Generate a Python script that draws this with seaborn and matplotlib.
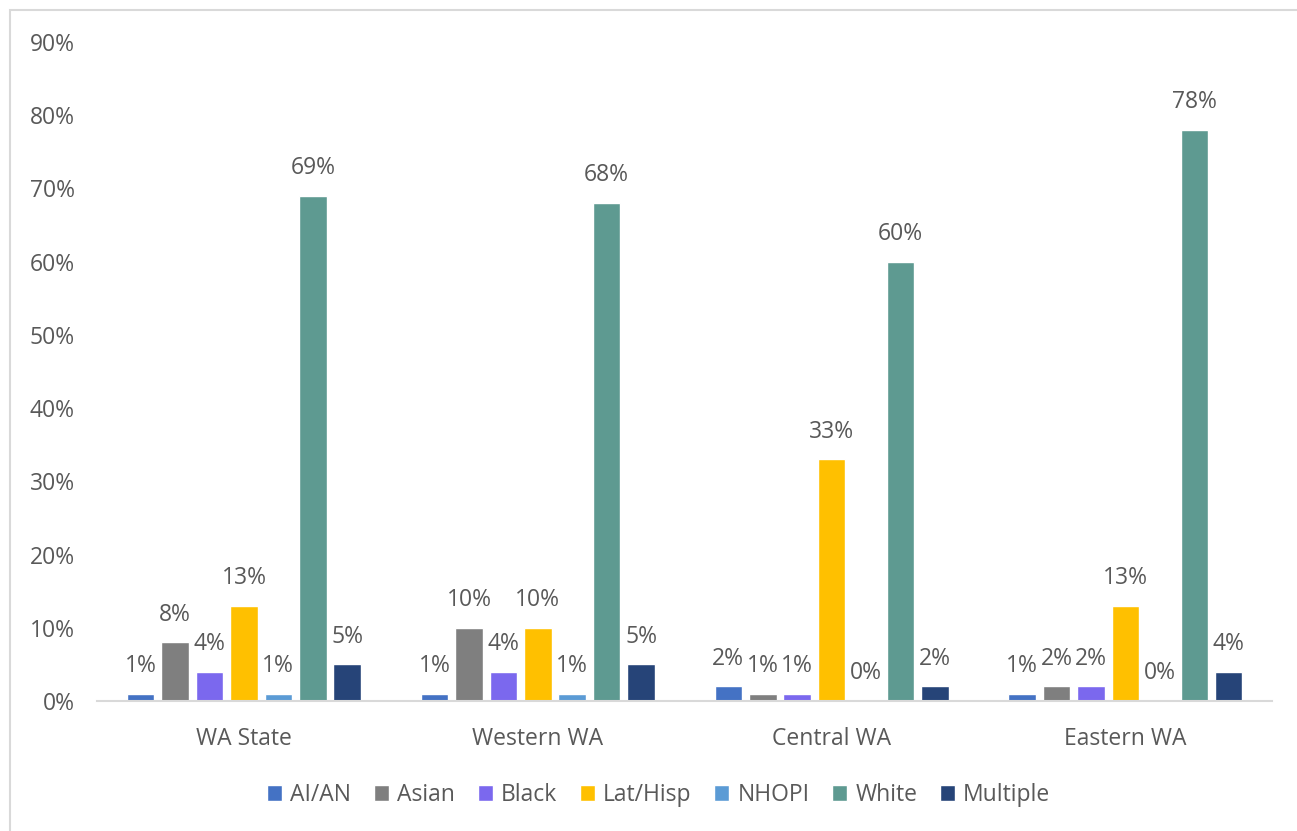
import matplotlib
matplotlib.use("Agg")
import matplotlib.pyplot as plt
from matplotlib.patches import Rectangle
import seaborn as sns
import pandas as pd

regions = ["WA State", "Western WA", "Central WA", "Eastern WA"]
groups = ["AI/AN", "Asian", "Black", "Lat/Hisp", "NHOPI", "White", "Multiple"]
ai_an = [1, 1, 2, 1]
asian = [8, 10, 1, 2]
black = [4, 4, 1, 2]
lat_hisp = [13, 10, 33, 13]
nhopi = [1, 1, 0, 0]
white = [69, 68, 60, 78]
multiple = [5, 5, 2, 4]
y_ticks = [0, 10, 20, 30, 40, 50, 60, 70, 80, 90]

colors = ["#4472C4", "#7F7F7F", "#7B68EE", "#FFC000", "#5B9BD5", "#5E9A91", "#264478"]

series = [ai_an, asian, black, lat_hisp, nhopi, white, multiple]
rows = []
for g, vals in zip(groups, series):
    for r, v in zip(regions, vals):
        rows.append({"Region": r, "Group": g, "Share": v})
df = pd.DataFrame(rows)

sns.set_theme(style="white")
plt.rcParams["font.family"] = ["Open Sans", "DejaVu Sans"]
text_color = "#595959"
fs = 16.5

fig = plt.figure(figsize=(12.97, 8.31), dpi=100)
ax = fig.add_axes([0.0748, 0.1564, 0.9062, 0.7931])

sns.barplot(data=df, x="Region", y="Share", hue="Group", hue_order=groups,
            order=regions, palette=colors, width=0.82, gap=0.2,
            saturation=1, errorbar=None, ax=ax, legend=True)

# value labels above each bar
for container, vals in zip(ax.containers, series):
    for bar, v in zip(container, vals):
        ax.annotate(f"{v}%", (bar.get_x() + bar.get_width() / 2, bar.get_height()),
                    xytext=(0, 20), textcoords="offset points",
                    ha="center", va="center", fontsize=fs, color=text_color)

ax.set_ylim(0, 90)
ax.set_yticks(y_ticks)
ax.set_yticklabels([f"{t}%" for t in y_ticks])
ax.set_xlim(-0.5, len(regions) - 0.5)
ax.set_xlabel("")
ax.set_ylabel("")
ax.tick_params(axis="y", length=0, pad=16, labelsize=fs, labelcolor=text_color)
ax.tick_params(axis="x", length=0, pad=19, labelsize=fs, labelcolor=text_color)
for side in ["top", "right", "left"]:
    ax.spines[side].set_visible(False)
ax.spines["bottom"].set_color("#D9D9D9")
ax.spines["bottom"].set_linewidth(1.5)
ax.grid(False)

handles, labels = ax.get_legend_handles_labels()
ax.legend_.remove()
fig.legend(handles, labels, loc="center", bbox_to_anchor=(0.508, 1 - 795 / 831),
           ncol=7, frameon=False, fontsize=fs, labelcolor=text_color,
           handlelength=0.65, handleheight=0.65, handletextpad=0.35, columnspacing=1.0)

# outer chart frame
fig.patches.append(Rectangle((10 / 1297, -0.05), 1.1, 1.05 - 10 / 831,
                             transform=fig.transFigure, fill=False,
                             edgecolor="#D9D9D9", linewidth=1.5))

fig.savefig("out.png", dpi=100)
